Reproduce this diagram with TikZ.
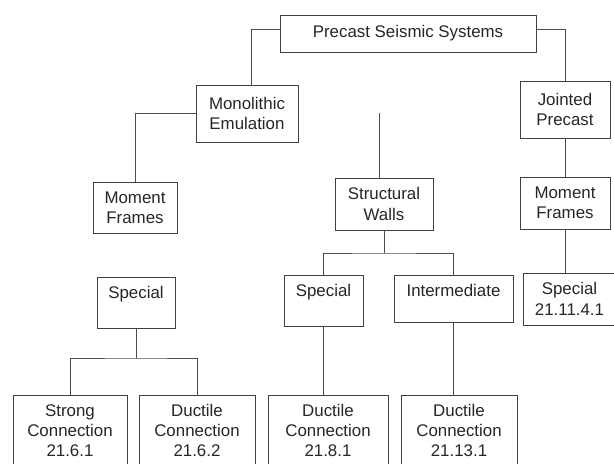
\documentclass[tikz,border=0pt]{standalone}
\usepackage{fontspec}
\setmainfont{Liberation Sans}
\usepackage{tikz}

\begin{document}
\begin{tikzpicture}[x=0.025cm,y=-0.025cm]
  \tikzstyle{Box}=[draw=black!75,line width=0.5pt,align=center,inner sep=0pt,
                   text=black!85,font=\fontsize{12}{14.4}\selectfont]
  \tikzstyle{TopText}=[Box,inner ysep=0pt,text height=15pt]
  \tikzstyle{Link}=[draw=black!70,line width=0.5pt]
  \useasboundingbox (0,0) rectangle (614,464);
  \node[Box,minimum width=6.4cm,minimum height=0.925cm] (top) at (408,33.5) {Precast Seismic Systems};
  \node[Box,minimum width=2.55cm,minimum height=1.425cm] (mono) at (247,113.5) {Monolithic\\Emulation};
  \node[Box,minimum width=2.25cm,minimum height=1.425cm] (jointed) at (565,109.5) {Jointed\\Precast};
  \node[Box,minimum width=2.1cm,minimum height=1.275cm] (mfL) at (135,207.5) {Moment\\Frames};
  \node[Box,minimum width=2.45cm,minimum height=1.3cm] (walls) at (384,204) {Structural\\Walls};
  \node[Box,minimum width=2.25cm,minimum height=1.3cm] (mfR) at (565,203) {Moment\\Frames};
  \node[TopText,minimum width=1.95cm,text depth=0.75cm] (specL) at (136,302.5) {Special};
  \node[TopText,minimum width=1.975cm,text depth=0.75cm] (specM) at (323.5,300.5) {Special};
  \node[TopText,minimum width=2.975cm,text depth=0.65cm] (inter) at (453.5,299) {Intermediate};
  \node[Box,minimum width=2.325cm,minimum height=1.3cm] (specR) at (569.5,299) {Special\\21.11.4.1};
  \node[Box,minimum width=2.85cm,minimum height=1.775cm] (strong) at (70,430.5) {Strong\\Connection\\21.6.1};
  \node[Box,minimum width=2.9cm,minimum height=1.775cm] (duct1) at (197,430.5) {Ductile\\Connection\\21.6.2};
  \node[Box,minimum width=3.0cm,minimum height=1.775cm] (duct2) at (328,430.5) {Ductile\\Connection\\21.8.1};
  \node[Box,minimum width=2.9cm,minimum height=1.775cm] (duct3) at (459,430.5) {Ductile\\Connection\\21.13.1};
  \coordinate (wtop) at (379,113);
  \coordinate (wfork) at (380,253);
  \coordinate (sfork) at (138,358);
  % links
  \draw[Link] ([yshift=0.1cm]top.west) -| ([xshift=0.12cm]mono.north);
  \draw[Link] ([yshift=0.1cm]top.east) -| (jointed);
  \draw[Link] (mono.west) -| (mfL);
  \draw[Link] (wtop) -- (wtop |- walls.north);
  \draw[Link] (walls) -- (walls |- wfork);
  \draw[Link] (specM) |- (wfork) -| (inter);
  \draw[Link] (jointed) -- (mfR);
  \draw[Link] (mfR) -- (mfR |- specR.north);
  \draw[Link] (specL) -- (specL |- sfork);
  \draw[Link] (strong) |- (sfork) -| (duct1);
  \draw[Link] (specM) -- (specM |- duct2.north);
  \draw[Link] (inter) -- (inter |- duct3.north);
\end{tikzpicture}
\end{document}
